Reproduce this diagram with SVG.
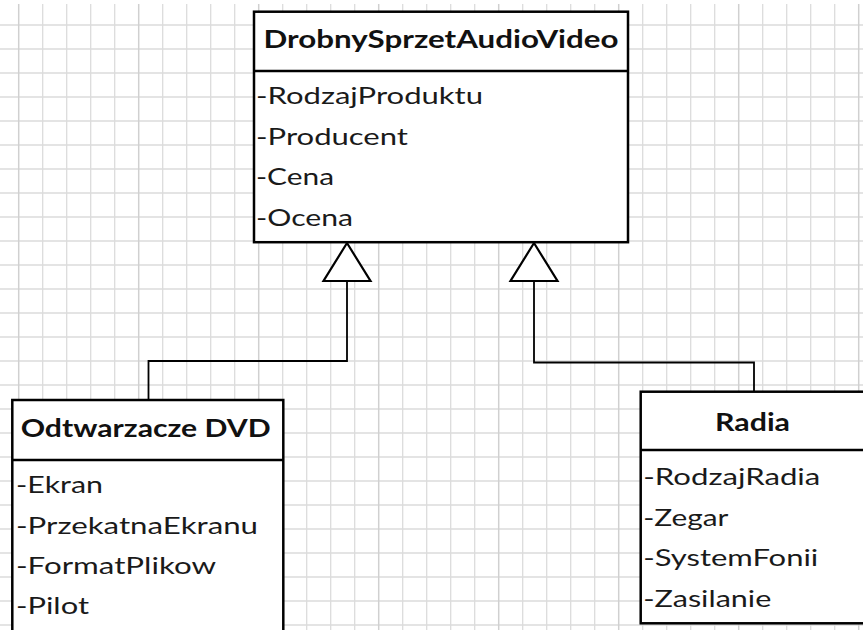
<svg xmlns="http://www.w3.org/2000/svg" width="863" height="630" viewBox="0 0 863 630">
  <defs>
    <style>
      .grid { stroke: #dcdcdc; stroke-width: 1.3; fill: none; }
      .grid-major { stroke: #d0d0d0; stroke-width: 1.5; fill: none; }
      .box { fill: #ffffff; stroke: #000000; stroke-width: 2.5; }
      .divider { stroke: #000000; stroke-width: 2.5; }
      .edge { fill: none; stroke: #000000; stroke-width: 1.8; }
      .head { fill: #ffffff; stroke: #000000; stroke-width: 2.2; stroke-linejoin: miter; }
      .title { font-family: Lato, "Liberation Sans", sans-serif; font-weight: bold; font-size: 24px; fill: #111111; }
      .attr { font-family: Lato, "Liberation Sans", sans-serif; font-size: 23px; fill: #1a1a1a; }
    </style>
  </defs>

  <rect width="863" height="630" fill="#ffffff"/>

  <!-- squared paper background -->
  <g id="grid">
    <path class="grid" d="M0 25H863M0 49H863M0 73H863M0 97H863M0 121H863M0 145H863M0 169H863M0 193H863M0 217H863M0 241H863M0 265H863M0 289H863M0 313H863M0 337H863M0 361H863M0 385H863M0 409H863M0 433H863M0 457H863M0 481H863M0 505H863M0 529H863M0 553H863M0 577H863M0 601H863M0 625H863"/>
    <path class="grid" d="M42.7 4V630M66.7 4V630M90.7 4V630M114.7 4V630M162.7 4V630M186.7 4V630M210.7 4V630M234.7 4V630M282.7 4V630M306.7 4V630M330.7 4V630M354.7 4V630M402.7 4V630M426.7 4V630M450.7 4V630M474.7 4V630M522.7 4V630M546.7 4V630M570.7 4V630M594.7 4V630M642.7 4V630M666.7 4V630M690.7 4V630M714.7 4V630M762.7 4V630M786.7 4V630M810.7 4V630M834.7 4V630"/>
    <path class="grid-major" d="M18.7 4V630M138.7 4V630M258.7 4V630M378.7 4V630M498.7 4V630M618.7 4V630M738.7 4V630M858.7 4V630"/>
  </g>

  <!-- generalization connectors -->
  <g id="connectors">
    <path class="edge" d="M347 281V361H148.5V400"/>
    <polygon class="head" points="347,243 370.5,281 323.5,281"/>
    <path class="edge" d="M534 281V362.5H754V391.7"/>
    <polygon class="head" points="534,243 557.5,281 510.5,281"/>
  </g>

  <!-- base class -->
  <g id="DrobnySprzetAudioVideo">
    <rect class="box" x="254" y="11.7" width="374" height="230.5"/>
    <line class="divider" x1="254" y1="71" x2="628" y2="71"/>
    <text class="title" x="441" y="48" text-anchor="middle" textLength="355" lengthAdjust="spacingAndGlyphs">DrobnySprzetAudioVideo</text>
    <text class="attr" x="256" y="104" textLength="227" lengthAdjust="spacingAndGlyphs">-RodzajProduktu</text>
    <text class="attr" x="256" y="144.5" textLength="152" lengthAdjust="spacingAndGlyphs">-Producent</text>
    <text class="attr" x="256" y="185" textLength="78" lengthAdjust="spacingAndGlyphs">-Cena</text>
    <text class="attr" x="256" y="225.5" textLength="97" lengthAdjust="spacingAndGlyphs">-Ocena</text>
  </g>

  <!-- DVD players -->
  <g id="OdtwarzaczeDVD">
    <rect class="box" x="12.3" y="400" width="271" height="250"/>
    <line class="divider" x1="12.3" y1="460" x2="283.3" y2="460"/>
    <text class="title" x="145.7" y="436.7" text-anchor="middle" textLength="250" lengthAdjust="spacingAndGlyphs">Odtwarzacze DVD</text>
    <text class="attr" x="16" y="493.3" textLength="87" lengthAdjust="spacingAndGlyphs">-Ekran</text>
    <text class="attr" x="16" y="533.5" textLength="242" lengthAdjust="spacingAndGlyphs">-PrzekatnaEkranu</text>
    <text class="attr" x="16" y="574" textLength="200" lengthAdjust="spacingAndGlyphs">-FormatPlikow</text>
    <text class="attr" x="16" y="614.3" textLength="73" lengthAdjust="spacingAndGlyphs">-Pilot</text>
  </g>

  <!-- radios -->
  <g id="Radia">
    <rect class="box" x="640.7" y="391.7" width="240" height="231.6"/>
    <line class="divider" x1="640.7" y1="450" x2="880" y2="450"/>
    <text class="title" x="752.5" y="430.7" text-anchor="middle" textLength="75" lengthAdjust="spacingAndGlyphs">Radia</text>
    <text class="attr" x="643.3" y="485" textLength="177" lengthAdjust="spacingAndGlyphs">-RodzajRadia</text>
    <text class="attr" x="643.3" y="525.7" textLength="85" lengthAdjust="spacingAndGlyphs">-Zegar</text>
    <text class="attr" x="643.3" y="565.5" textLength="175" lengthAdjust="spacingAndGlyphs">-SystemFonii</text>
    <text class="attr" x="643.3" y="607" textLength="128" lengthAdjust="spacingAndGlyphs">-Zasilanie</text>
  </g>
</svg>
